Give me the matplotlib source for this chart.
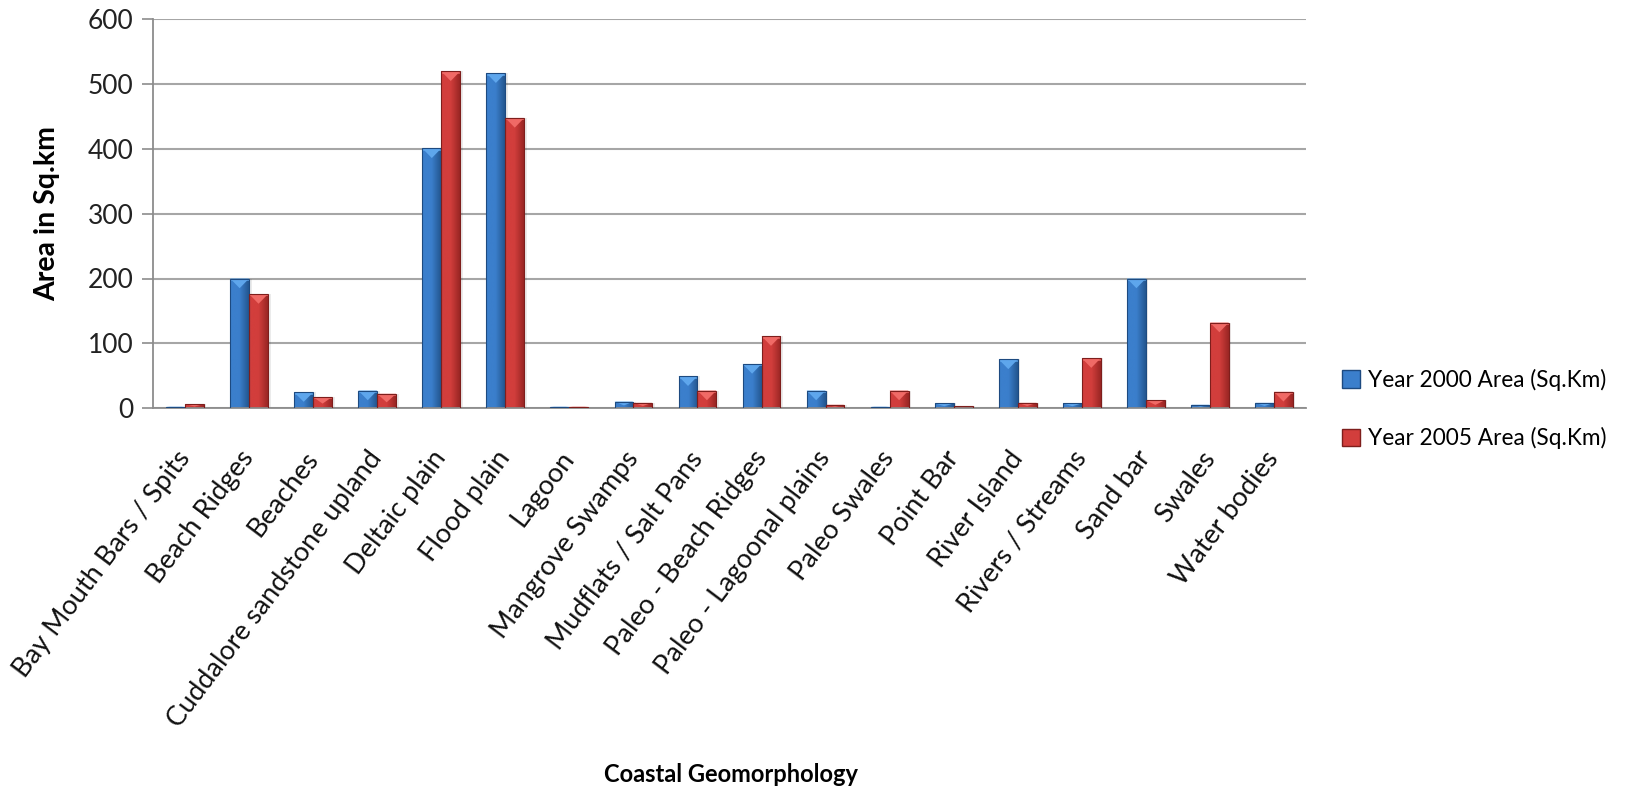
import numpy as np
import matplotlib
matplotlib.use("Agg")
import matplotlib.pyplot as plt
from matplotlib.patches import Polygon, Patch
from matplotlib.colors import LinearSegmentedColormap

categories = [
    "Bay Mouth Bars / Spits", "Beach Ridges", "Beaches", "Cuddalore sandstone upland",
    "Deltaic plain", "Flood plain", "Lagoon", "Mangrove Swamps", "Mudflats / Salt Pans",
    "Paleo - Beach Ridges", "Paleo - Lagoonal plains", "Paleo Swales", "Point Bar",
    "River Island", "Rivers / Streams", "Sand bar", "Swales", "Water bodies",
]
area_2000 = [2, 200, 24, 27, 401, 517, 2, 10, 49, 68, 27, 2, 7, 75, 7, 200, 5, 8]
area_2005 = [6, 176, 17, 22, 520, 448, 2, 8, 27, 111, 5, 27, 3, 8, 77, 12, 132, 25]
series_labels = ["Year 2000 Area (Sq.Km)", "Year 2005 Area (Sq.Km)"]
y_ticks = [0, 100, 200, 300, 400, 500, 600]

plt.rcParams["font.family"] = ["Lato", "DejaVu Sans"]

W, H, DPI = 1625, 798, 100
fig = plt.figure(figsize=(W / DPI, H / DPI), dpi=DPI)
ax = fig.add_axes([153 / W, 1 - 408 / H, (1306 - 153) / W, (408 - 19.5) / H])

x = np.arange(len(categories))
bw = 0.295

styles = [
    dict(light="#5ea6ec", mid="#3b7fcc", dark="#23568f", edge="#1d4a80"),
    dict(light="#f06a66", mid="#d23e3c", dark="#9a2624", edge="#7e1e1c"),
]

def shade_bar(rect, st):
    # horizontal shading across the bar for a rounded look
    cmap = LinearSegmentedColormap.from_list(
        "s", [st["mid"], st["mid"], st["dark"]])
    xb, yb = rect.get_x(), rect.get_y()
    w, h = rect.get_width(), rect.get_height()
    if h <= 0:
        return
    grad = np.linspace(0, 1, 64).reshape(1, -1)
    im = ax.imshow(grad, cmap=cmap, aspect="auto",
                   extent=(xb, xb + w, yb, yb + h), zorder=2.5,
                   interpolation="bicubic")
    im.set_clip_path(rect)
    # bevelled top: lighter downward chevron
    th = min(h * 0.6, 15)
    tri = Polygon([(xb, yb + h), (xb + w, yb + h), (xb + w * 0.5, yb + h - th)],
                  closed=True, facecolor=st["light"], edgecolor="none", zorder=2.6)
    ax.add_patch(tri)
    band = Polygon([(xb, yb + h), (xb + w, yb + h), (xb + w, yb + h - th * 0.25),
                    (xb, yb + h - th * 0.25)], closed=True,
                   facecolor=st["light"], edgecolor="none", zorder=2.6, alpha=0.7)
    ax.add_patch(band)

for vals, off, st in zip([area_2000, area_2005], [-bw / 2, bw / 2], styles):
    # soft shadow to the right
    ax.bar(x + off + 0.04, vals, bw, color="#000000", alpha=0.08, zorder=1.5,
           linewidth=0)
    bars = ax.bar(x + off, vals, bw, color=st["mid"], edgecolor=st["edge"],
                  linewidth=0.8, zorder=2.4)
    for r in bars:
        shade_bar(r, st)
    for r in bars:
        r.set_facecolor("none")
        r.set_zorder(2.7)

ax.set_xlim(-0.5, len(categories) - 0.5)
ax.set_ylim(0, 600)
ax.set_yticks(y_ticks)
ax.set_yticklabels([str(t) for t in y_ticks], fontsize=19, color="#222222")
ax.yaxis.grid(True, color="#a6a6a6", linewidth=1.5, zorder=0)
ax.set_axisbelow(True)
ax.tick_params(axis="y", length=8, width=1.2, color="#8c8c8c", pad=6)
ax.tick_params(axis="x", length=0, pad=33)
ax.set_xticks(x)
ax.set_xticklabels(categories, rotation=53, ha="right", va="center",
                   rotation_mode="anchor", fontsize=19.5, color="#111111")
for s in ["top", "right"]:
    ax.spines[s].set_visible(False)
for s in ["left", "bottom"]:
    ax.spines[s].set_color("#8c8c8c")
    ax.spines[s].set_linewidth(1.3)

ax.set_ylabel("Area in Sq.km", fontsize=20.5, fontweight="bold", labelpad=20)
fig.text(731 / W, 1 - 775 / H, "Coastal Geomorphology", fontsize=17,
         fontweight="bold", ha="center", va="center")

handles = [Patch(facecolor=st["mid"], edgecolor=st["edge"]) for st in styles]
leg = fig.legend(handles, series_labels, loc="center left",
                 bbox_to_anchor=(1322 / W, 1 - 409 / H), frameon=False,
                 fontsize=16.3, labelspacing=1.6, handlelength=0.8,
                 handleheight=0.8, handletextpad=0.35)

fig.savefig("out.png", dpi=DPI, facecolor="white")
